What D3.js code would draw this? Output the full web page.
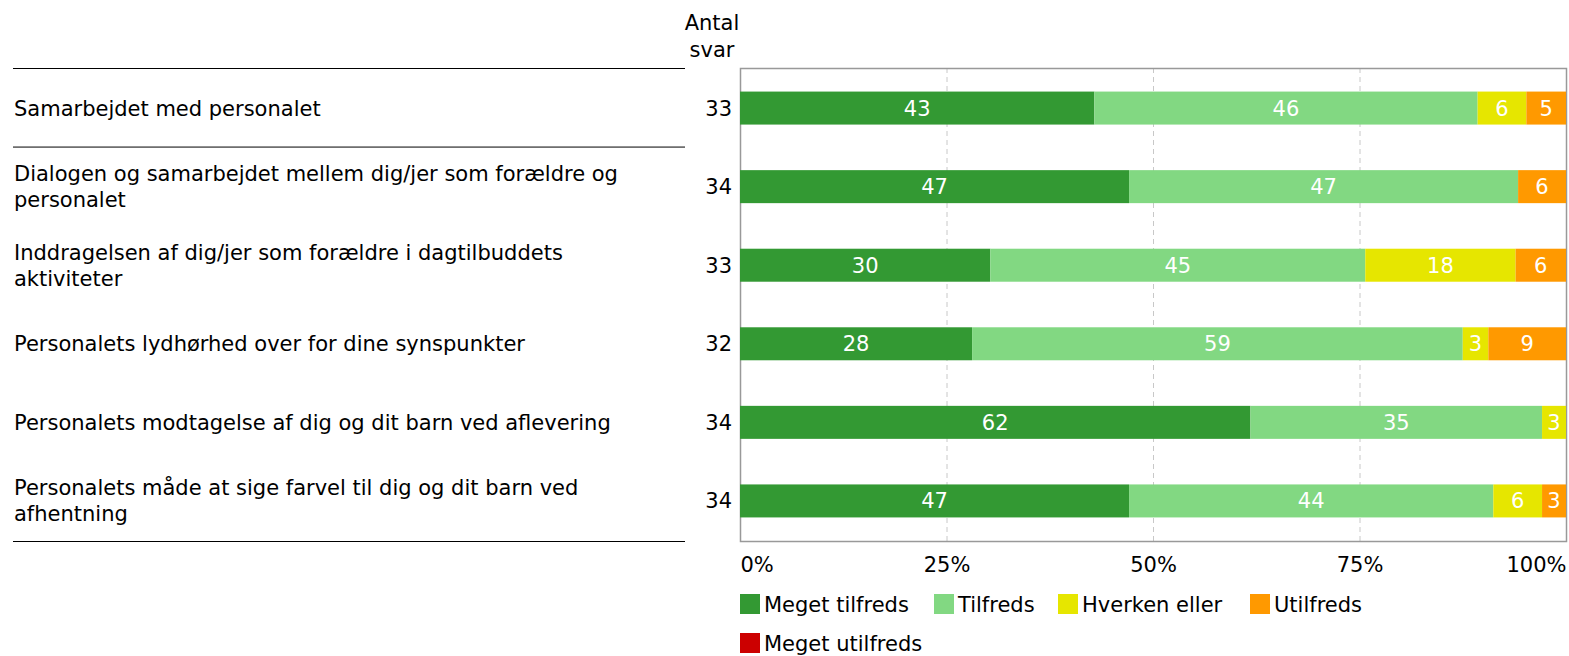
<!DOCTYPE html>
<html>
<head>
<meta charset="utf-8">
<script src="https://cdn.jsdelivr.net/npm/d3@7"></script>
<style>
body { margin: 0; background: #fff; }
text { font-family: Verdana, "DejaVu Sans", sans-serif; }
</style>
</head>
<body>
<svg id="chart" width="1569" height="656"></svg>
<script>
// data
var questions = [
    ["Samarbejdet med personalet"],
    ["Dialogen og samarbejdet mellem dig/jer som forældre og", "personalet"],
    ["Inddragelsen af dig/jer som forældre i dagtilbuddets", "aktiviteter"],
    ["Personalets lydhørhed over for dine synspunkter"],
    ["Personalets modtagelse af dig og dit barn ved aflevering"],
    ["Personalets måde at sige farvel til dig og dit barn ved", "afhentning"]
];
var antalSvar = [33, 34, 33, 32, 34, 34];
var categories = ["Meget tilfreds", "Tilfreds", "Hverken eller", "Utilfreds", "Meget utilfreds"];
var colors = ["#339933", "#82d882", "#e6e600", "#ff9900", "#cc0000"];
var megetTilfreds  = [42.9, 47.1, 30.3, 28.1, 61.8, 47.1];
var tilfreds       = [46.4, 47.1, 45.4, 59.4, 35.3, 44.1];
var hverkenEller   = [5.9, 0, 18.2, 3.1, 2.9, 5.9];
var utilfreds      = [4.8, 5.8, 6.1, 9.4, 0, 2.9];
var megetUtilfreds = [0, 0, 0, 0, 0, 0];
var tickValues = [0, 25, 50, 75, 100];

var series = [megetTilfreds, tilfreds, hverkenEller, utilfreds, megetUtilfreds];
var rows = questions.map(function (q, i) {
    var r = { idx: i };
    categories.forEach(function (c, j) { r[c] = series[j][i]; });
    return r;
});
var stacked = d3.stack().keys(categories)(rows);

var svg = d3.select("#chart");
var fs = 21;
var x = d3.scaleLinear().domain([0, 100]).range([740, 1566]);
var y = d3.scaleBand().domain(d3.range(questions.length)).range([68, 541]).paddingInner(0.58).paddingOuter(0.3);
var step = y.step();

// grid lines
svg.append("g").selectAll("line")
    .data([25, 50, 75]).enter()
    .append("line")
    .attr("x1", function (d) { return x(d) + 0.5; })
    .attr("x2", function (d) { return x(d) + 0.5; })
    .attr("y1", 68).attr("y2", 541)
    .attr("stroke", "#c8c8c8")
    .attr("stroke-dasharray", "5,4");

// frame
svg.append("rect")
    .attr("x", 740.5).attr("y", 68.5)
    .attr("width", 1566 - 740).attr("height", 541 - 68)
    .attr("fill", "none").attr("stroke", "#999")
    .attr("stroke-width", 1.5);

// bars
var layers = svg.append("g").selectAll("g")
    .data(stacked).enter()
    .append("g")
    .attr("fill", function (d, i) { return colors[i]; });

layers.selectAll("rect")
    .data(function (d) { return d; }).enter()
    .append("rect")
    .attr("x", function (d) { return x(d[0]); })
    .attr("y", function (d) { return y(d.data.idx); })
    .attr("width", function (d) { return x(d[1]) - x(d[0]); })
    .attr("height", y.bandwidth());

layers.selectAll("text")
    .data(function (d) { return d.filter(function (s) { return s[1] - s[0] > 0; }); }).enter()
    .append("text")
    .attr("x", function (d) { return (x(d[0]) + x(d[1])) / 2; })
    .attr("y", function (d) { return y(d.data.idx) + y.bandwidth() / 2; })
    .attr("dy", "0.36em")
    .attr("text-anchor", "middle")
    .attr("fill", "#fff")
    .attr("font-size", fs)
    .text(function (d) { return Math.round(d[1] - d[0]); });

// question labels
var qg = svg.append("g");
questions.forEach(function (lines, i) {
    var cy = y(i) + y.bandwidth() / 2;
    var t = qg.append("text")
        .attr("x", 14)
        .attr("font-size", fs)
        .attr("fill", "#000");
    lines.forEach(function (l, k) {
        t.append("tspan")
            .attr("x", 14)
            .attr("y", cy + (k - (lines.length - 1) / 2) * 26)
            .attr("dy", "0.36em")
            .text(l);
    });
});

// separator lines
[68, 68 + step, 541].forEach(function (yy) {
    svg.append("line")
        .attr("x1", 13).attr("x2", 685)
        .attr("y1", yy + 0.5).attr("y2", yy + 0.5)
        .attr("stroke", "#000");
});

// antal svar
svg.append("text").attr("x", 712).attr("y", 30).attr("text-anchor", "middle")
    .attr("font-size", fs).text("Antal");
svg.append("text").attr("x", 712).attr("y", 57).attr("text-anchor", "middle")
    .attr("font-size", fs).text("svar");
svg.append("g").selectAll("text")
    .data(antalSvar).enter()
    .append("text")
    .attr("x", 732)
    .attr("y", function (d, i) { return y(i) + y.bandwidth() / 2; })
    .attr("dy", "0.36em")
    .attr("text-anchor", "end")
    .attr("font-size", fs)
    .text(function (d) { return d; });

// x axis
var xAxis = d3.axisBottom(x).tickValues(tickValues).tickSize(0).tickPadding(0)
    .tickFormat(function (d) { return d + "%"; });
var ax = svg.append("g").attr("transform", "translate(0,557)").call(xAxis);
ax.select(".domain").remove();
ax.selectAll("text")
    .attr("font-size", fs)
    .attr("font-family", null)
    .attr("fill", "#000")
    .attr("dy", "0.71em")
    .attr("text-anchor", function (d) { return d === 0 ? "start" : d === 100 ? "end" : "middle"; });

// legend
var legendX = [740, 934, 1058, 1250, 740];
var legendY = [604, 604, 604, 604, 643];
var lg = svg.append("g").selectAll("g")
    .data(categories).enter()
    .append("g")
    .attr("transform", function (d, i) { return "translate(" + legendX[i] + "," + legendY[i] + ")"; });
lg.append("rect")
    .attr("x", 0).attr("y", -10)
    .attr("width", 20).attr("height", 20)
    .attr("fill", function (d, i) { return colors[i]; });
lg.append("text")
    .attr("x", 24).attr("dy", "0.36em")
    .attr("font-size", fs)
    .text(function (d) { return d; });
</script>
</body>
</html>
